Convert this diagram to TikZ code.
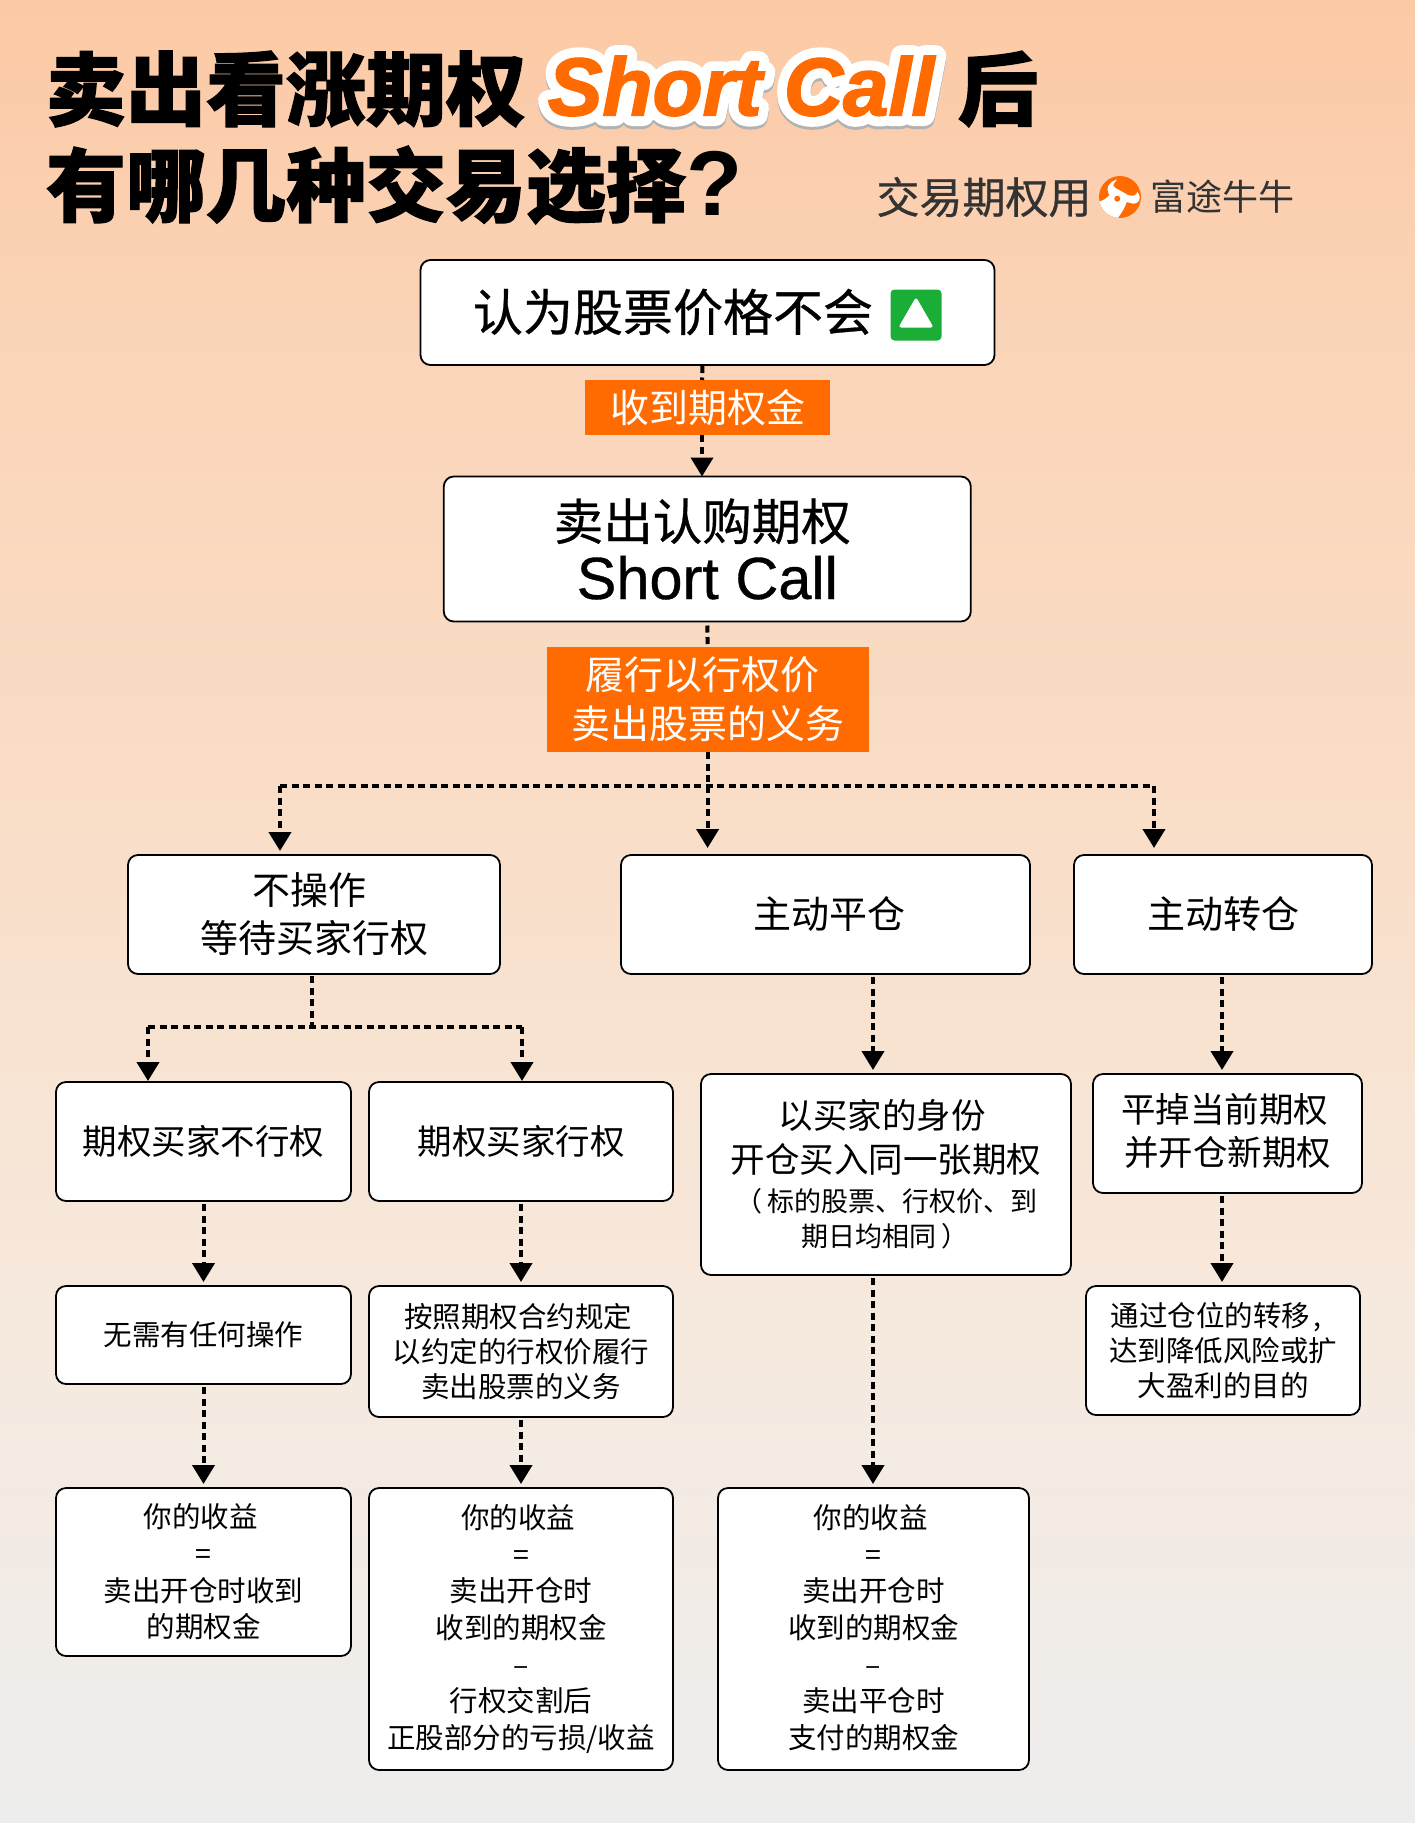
\documentclass[tikz,border=0pt]{standalone}
\usepackage{fontspec}
\setmainfont{Noto Sans CJK SC}
\newfontfamily\headfont[BoldFeatures={FakeBold=1.5}]{Noto Sans CJK SC}
\newfontfamily\medfont[FakeBold=0.6]{Noto Sans CJK SC}
\newfontfamily\latinfont[FakeBold=0.6]{Liberation Sans}
\newfontfamily\callfont[BoldItalicFeatures={FakeBold=2}]{Liberation Sans}
\newfontfamily\edgefont[BoldItalicFeatures={FakeBold=26}]{Liberation Sans}
\usetikzlibrary{arrows.meta,positioning}
\definecolor{brand}{HTML}{FF6B00}
\definecolor{upgreen}{HTML}{1AAE37}
\definecolor{inkgrey}{HTML}{333333}
\definecolor{fadeA}{HTML}{FCC9A5}
\definecolor{fadeB}{HTML}{FAD5B9}
\definecolor{fadeC}{HTML}{F9DFCA}
\definecolor{fadeD}{HTML}{F6EADF}
\definecolor{fadeE}{HTML}{EDEDED}
\pgfdeclareverticalshading{bgfade}{100bp}{color(0bp)=(fadeE);color(25bp)=(fadeE);
 color(38bp)=(fadeD);color(51bp)=(fadeC);color(65bp)=(fadeB);color(75bp)=(fadeA);color(100bp)=(fadeA)}
\newcommand{\px}[2]{\fontsize{#1}{#2}\selectfont}

\begin{document}
\begin{tikzpicture}
[x=1pt,y=-1pt,
 every node/.style={inner sep=0pt,outer sep=0pt,align=center},
 box/.style={draw=black,line width=1.8pt,fill=white,rounded corners=10pt},
 tag/.style={fill=brand,text=white},
 heading/.style={anchor=west,text=black,font=\headfont\bfseries\px{80}{80}},
 large/.style={box,font=\medfont\px{49.5}{58}},
 mid/.style={box,font=\px{38}{48}},
 small/.style={box,font=\px{34.5}{43}},
 tiny/.style={box,font=\px{28.5}{35}},
 result/.style={box,font=\px{28.5}{36.6}},
 dashline/.style={line width=4pt,dash pattern=on 7pt off 4.5pt},
 flow/.style={dashline,-{Triangle[length=19pt,width=22pt]},shorten <=3pt,shorten >=4pt}]
\useasboundingbox (0,0) rectangle (1415,1823);
\node[shading=bgfade,minimum width=1415pt,minimum height=1823pt] (bg) at (707.5,911.5) {};

% heading
\node[heading] (head1) at (46,89) {卖出看涨期权};
\node[heading] (head2) at (958,89) {后};
\node[heading] (head3) at (46,185) {有哪几种交易选择{\callfont\bfseries\px{92}{80}?}};
\node[text=black!30,font=\edgefont\bfseries\itshape\px{82}{80}] (callshade) at (741,89) {\pgfsetroundjoin Short\hspace{22pt}Call};
\node[text=white,font=\edgefont\bfseries\itshape\px{82}{80}] (calledge) at (741,86) {\pgfsetroundjoin Short\hspace{22pt}Call};
\node[text=brand,font=\callfont\bfseries\itshape\px{82}{80}] (call) at (741,86) {Short\hspace{22pt}Call};
\node[text=inkgrey,font=\medfont\px{43}{42}] (slogan) at (984,197) {交易期权用};
\node[text=inkgrey,font=\px{36}{36}] (brandname) at (1222,197) {富途牛牛};
\node[circle,fill=brand,minimum size=42pt] (logo) at (1120,197) {};
\begin{scope}[shift={(logo.center)}]
\clip (0,0) circle (21);
\fill[white] (-22,5) .. controls (-16,3) .. (-10.7,-1.7) .. controls (-13,-8) .. (-11.7,-11) .. controls (-9,-15) .. (-2.7,-17.7) .. controls (-6,-14) .. (-6.7,-11.7) .. controls (-5,-9) .. (-3.3,-8.3) -- (8,-2) .. controls (14,0) and (16,-2) .. (17.3,-5) .. controls (20,-1) .. (19.3,3.3) .. controls (17,6) .. (13.3,6.7) -- (6.7,5) .. controls (4,12) .. (-2.7,22) -- (-22,22) -- cycle;
\fill[brand] (-2.7,1.7) circle (3);
\end{scope}

% upper boxes
\node[box,minimum width=574pt,minimum height=105pt] (belief) at (707.5,312.5) {};
\node[font=\medfont\px{50}{58}] (belieftext) at (673,312) {认为股票价格不会};
\node[fill=upgreen,rounded corners=4pt,minimum size=51pt] (upicon) at (916,315) {};
\fill[white,draw=white,line width=3pt,line join=round] (916,300) -- (931,326) -- (901,326) -- cycle;
\node[tag,minimum width=245pt,minimum height=55pt,font=\px{39}{48}] (premium) at (707.5,407.5) {收到期权金};
\node[large,minimum width=527pt,minimum height=145pt] (sell) at (707.3,549) {卖出认购期权\hspace*{10pt}\\[1pt]{\latinfont\px{59.5}{58}Short Call}};
\node[tag,minimum width=322pt,minimum height=105pt,font=\px{39}{49}] (duty) at (707.6,699.5) {履行以行权价\hspace*{10pt}\\卖出股票的义务};
\coordinate (fork)  at (707.6,786);
\coordinate (forkL) at (280,786);
\coordinate (forkR) at (1154,786);

% three choices
\node[mid,minimum width=372pt,minimum height=119pt] (wait)  at (314,914.5) {不操作\hspace*{10pt}\\等待买家行权};
\node[mid,minimum width=409pt,minimum height=119pt] (close) at (825.5,914.5) {主动平仓\hspace*{-8pt}};
\node[mid,minimum width=298pt,minimum height=119pt] (roll)  at (1223,914.5) {主动转仓};
\coordinate (split)  at (312,1027);
\coordinate (splitL) at (148,1027);
\coordinate (splitR) at (522,1027);

% second row
\node[small,minimum width=295pt,minimum height=119pt] (noex) at (203.5,1141.5) {期权买家不行权};
\node[small,minimum width=304pt,minimum height=119pt] (ex)   at (521,1141.5) {期权买家行权};
\node[small,minimum width=370pt,minimum height=201pt] (buyback) at (886,1174.5)
 {以买家的身份\hspace*{8pt}\\[1pt]开仓买入同一张期权\\[-4pt]{\px{27}{35}（\hspace{5pt}标的股票、行权价、到\hspace*{3pt}}\\[-8pt]{\px{27}{35}期日均相同\hspace{5pt}）\hspace*{3pt}}};
\node[small,minimum width=269pt,minimum height=119pt] (swap) at (1227.5,1133.5) {平掉当前期权\hspace*{6pt}\\并开仓新期权\rule[-9pt]{0pt}{9pt}};
\coordinate (colC) at (873,1000);
\coordinate (colD) at (1222,1000);

% third row
\node[tiny,minimum width=295pt,minimum height=98pt]  (none)    at (203.5,1335) {无需有任何操作};
\node[tiny,minimum width=304pt,minimum height=131pt] (deliver) at (521,1351.5) {按照期权合约规定\hspace*{6pt}\\以约定的行权价履行\\卖出股票的义务};
\node[tiny,minimum width=274pt,minimum height=129pt] (goal)    at (1223,1350.5) {通过仓位的转移\hspace{3pt},\hspace*{14pt}\\达到降低风险或扩\\大盈利的目的};

% results
\node[result,minimum width=295pt,minimum height=168pt] (gainA) at (203.5,1572) {你的收益\hspace*{6pt}\\=\hspace*{6pt}\\卖出开仓时收到\\的期权金};
\node[result,minimum width=304pt,minimum height=282pt] (gainB) at (521,1629) {你的收益\hspace*{6pt}\\=\hspace*{6pt}\\卖出开仓时\hspace*{6pt}\\收到的期权金\hspace*{6pt}\\--\hspace*{6pt}\\行权交割后\hspace*{6pt}\\正股部分的亏损/收益};
\node[result,minimum width=311pt,minimum height=282pt] (gainC) at (873.5,1629) {你的收益\hspace*{6pt}\\=\hspace*{6pt}\\卖出开仓时\hspace*{6pt}\\收到的期权金\hspace*{6pt}\\--\hspace*{6pt}\\卖出平仓时\hspace*{6pt}\\支付的期权金\rule[-5pt]{0pt}{5pt}};

% connectors
\draw[dashline,shorten <=1pt] ([xshift=-5pt]belief.south) -- ([xshift=-5.5pt]premium.north);
\draw[flow,shorten <=0pt,shorten >=0pt] ([xshift=-5.5pt]premium.south) -- ([xshift=-5.3pt]sell.north);
\draw[dashline,shorten <=4pt] (sell.south) -- (duty.north);
\draw[dashline] (duty.south) -- (fork);
\draw[dashline] (forkL) -- (forkR);
\draw[flow,shorten <=0pt] (forkL) -- (forkL |- wait.north);
\draw[flow,shorten <=0pt,shorten >=7pt] (fork) -- (fork |- close.north);
\draw[flow,shorten <=0pt,shorten >=7pt] (forkR) -- (forkR |- roll.north);
\draw[dashline,shorten <=2pt] (wait.south -| split) -- (split);
\draw[dashline] (splitL) -- (splitR);
\draw[flow,shorten <=0pt,shorten >=1pt] (splitL) -- (splitL |- noex.north);
\draw[flow,shorten <=0pt,shorten >=1pt] (splitR) -- (splitR |- ex.north);
\draw[flow] (noex) -- (none);
\draw[flow] (ex) -- (deliver);
\draw[flow] (none) -- (gainA);
\draw[flow] (deliver) -- (gainB);
\draw[flow] (close.south -| colC) -- (buyback.north -| colC);
\draw[flow] (buyback.south -| colC) -- (gainC.north -| colC);
\draw[flow] (roll.south -| colD) -- (swap.north -| colD);
\draw[flow] (swap.south -| colD) -- (goal.north -| colD);
\end{tikzpicture}
\end{document}
